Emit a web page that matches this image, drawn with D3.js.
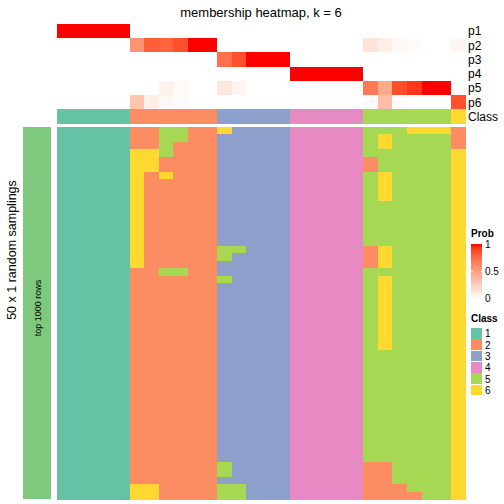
<!DOCTYPE html>
<html><head><meta charset="utf-8">
<script src="https://cdn.jsdelivr.net/npm/d3@7"></script>
<style>body{margin:0;background:#fff}text{font-family:"Liberation Sans",Arial,sans-serif}rect{shape-rendering:crispEdges}</style>
</head><body><svg id="c" width="504" height="504"></svg>
<script>
const title = "membership heatmap, k = 6";
const probRows = ["p1","p2","p3","p4","p5","p6"];
const classes = ["1","2","3","4","5","6"];
const classColors = ["#66C2A5","#FC8D62","#8DA0CB","#E78AC3","#A6D854","#FFD92F"];
// class of each column (28 columns)
const colClass = [1,1,1,1,1, 2,2,2,2,2,2, 3,3,3,3,3, 4,4,4,4,4, 5,5,5,5,5,5, 6];
const p1 = [1,1,1,1,1, 0,0,0,0,0,0, 0,0,0,0,0, 0,0,0,0,0, 0,0,0,0,0,0, 0];
const p2 = [0,0,0,0,0, 0.55,0.8,0.78,0.85,1,1, 0,0,0,0,0, 0,0,0,0,0, 0.15,0.09,0.04,0.02,0,0, 0.05];
const p3 = [0,0,0,0,0, 0,0,0,0,0,0, 0.72,0.85,1,1,1, 0,0,0,0,0, 0,0,0,0,0,0, 0];
const p4 = [0,0,0,0,0, 0,0,0,0,0,0, 0,0,0,0,0, 1,1,1,1,1, 0,0,0,0,0,0, 0];
const p5 = [0,0,0,0,0, 0,0,0.07,0.03,0,0, 0.13,0.05,0,0,0, 0,0,0,0,0, 0.68,0.45,0.85,0.92,1,1, 0];
const p6 = [0,0,0,0,0, 0.3,0.09,0.04,0.02,0,0, 0,0,0,0,0, 0,0,0,0,0, 0.02,0.35,0.02,0,0,0, 0.85];
// 50 random samplings x 28 columns (column groups separated by spaces)
const samplings = [
"11111 225522 63333 44444 555666 2",
"11111 225522 33333 44444 565555 2",
"11111 225222 33333 44444 565555 2",
"11111 665222 33333 44444 555555 6",
"11111 662222 33333 44444 255555 6",
"11111 662222 33333 44444 255555 6",
"11111 626222 33333 44444 565555 6",
"11111 622222 33333 44444 565555 6",
"11111 622222 33333 44444 565555 6",
"11111 622222 33333 44444 565555 6",
"11111 622222 33333 44444 555555 6",
"11111 622222 33333 44444 555555 6",
"11111 622222 33333 44444 555555 6",
"11111 622222 33333 44444 555555 6",
"11111 622222 33333 44444 555555 6",
"11111 622222 33333 44444 555555 6",
"11111 622222 55333 44444 265555 6",
"11111 622222 53333 44444 265555 6",
"11111 622222 33333 44444 265555 6",
"11111 225522 33333 44444 555555 6",
"11111 222222 53333 44444 565555 6",
"11111 222222 33333 44444 565555 6",
"11111 222222 33333 44444 565555 6",
"11111 222222 33333 44444 565555 6",
"11111 222222 33333 44444 565555 6",
"11111 222222 33333 44444 565555 6",
"11111 222222 33333 44444 565555 6",
"11111 222222 33333 44444 565555 6",
"11111 222222 33333 44444 565555 6",
"11111 222222 33333 44444 565555 6",
"11111 222222 33333 44444 555555 6",
"11111 222222 33333 44444 555555 6",
"11111 222222 33333 44444 555555 6",
"11111 222222 33333 44444 555555 6",
"11111 222222 33333 44444 555555 6",
"11111 222222 33333 44444 555555 6",
"11111 222222 33333 44444 555555 6",
"11111 222222 33333 44444 555555 6",
"11111 222222 33333 44444 555555 6",
"11111 222222 33333 44444 555555 6",
"11111 222222 33333 44444 555555 6",
"11111 222222 33333 44444 555555 6",
"11111 222222 33333 44444 555555 6",
"11111 222222 33333 44444 555555 6",
"11111 222222 33333 44444 555555 6",
"11111 222222 53333 44444 225555 6",
"11111 222222 53333 44444 225555 6",
"11111 222222 33333 44444 225555 6",
"11111 662222 55333 44444 222555 6",
"11111 662222 55333 44444 222255 6"
];
const probTicks = [0, 0.5, 1];

const svg = d3.select("#c");
const nCol = colClass.length;
const x = d3.scaleBand().domain(d3.range(nCol)).range([56.7, 465.3]).paddingInner(0);
const topRows = probRows.concat(["Class"]);
const yTop = d3.scaleBand().domain(topRows).range([24, 123.6]);
const yMain = d3.scaleBand().domain(d3.range(samplings.length)).range([127, 499]);
const probColor = d3.scaleLinear().domain([0,1]).range(["#FFFFFF","#FF0000"]).interpolate(d3.interpolateLab);
const classColor = d3.scaleOrdinal().domain(classes).range(classColors);
const probs = [p1,p2,p3,p4,p5,p6];

svg.append("text").attr("x", 261).attr("y", 16.5).attr("text-anchor","middle")
  .attr("font-size", 13).text(title);

// probability rows
probs.forEach((arr, r) => {
  svg.append("g").selectAll("rect").data(arr).join("rect")
    .attr("x", (d,i) => x(i)).attr("y", yTop(probRows[r]))
    .attr("width", x.bandwidth()+0.5).attr("height", yTop.bandwidth()+0.5)
    .attr("fill", d => probColor(d));
});
// class row
svg.append("g").selectAll("rect").data(colClass).join("rect")
  .attr("x", (d,i) => x(i)).attr("y", yTop("Class"))
  .attr("width", x.bandwidth()+0.5).attr("height", yTop.bandwidth())
  .attr("fill", d => classColor(String(d)));
// row labels
svg.append("g").selectAll("text").data(topRows).join("text")
  .attr("x", 468).attr("y", d => yTop(d) + yTop.bandwidth()/2 + 4.3)
  .attr("font-size", 12).text(d => d);

// main heatmap
samplings.forEach((row, r) => {
  const cells = row.replace(/ /g, "").split("");
  svg.append("g").selectAll("rect").data(cells).join("rect")
    .attr("x", (d,i) => x(i)).attr("y", yMain(r))
    .attr("width", x.bandwidth()+0.5).attr("height", yMain.bandwidth()+0.5)
    .attr("fill", d => classColor(d));
});

// left annotation bar
svg.append("rect").attr("x", 23).attr("y", 127).attr("width", 27.7).attr("height", 372)
  .attr("fill", "#7FC97F");
svg.append("text").attr("transform", "translate(40.5,308) rotate(-90)")
  .attr("text-anchor","middle").attr("font-size", 9).text("top 1000 rows");
svg.append("text").attr("transform", "translate(16,250) rotate(-90)")
  .attr("text-anchor","middle").attr("font-size", 12.5).text("50 x 1 random samplings");

// Prob legend
const lg = svg.append("g");
lg.append("text").attr("x", 471).attr("y", 236.5).attr("font-size", 10).attr("font-weight","bold").text("Prob");
const defs = svg.append("defs");
const grad = defs.append("linearGradient").attr("id","pg").attr("x1",0).attr("y1",1).attr("x2",0).attr("y2",0);
d3.range(0,1.001,0.1).forEach(t => grad.append("stop").attr("offset", t).attr("stop-color", probColor(t)));
const yLeg = d3.scaleLinear().domain([0,1]).range([299, 243.5]);
lg.append("rect").attr("x", 471).attr("y", yLeg(1)).attr("width", 11).attr("height", yLeg(0)-yLeg(1)).attr("fill","url(#pg)");
probTicks.forEach(t => {
  if (t > 0) {
    lg.append("line").attr("x1",471).attr("x2",473).attr("y1",yLeg(t)).attr("y2",yLeg(t)).attr("stroke","#fff").attr("stroke-width",0.8);
    lg.append("line").attr("x1",480).attr("x2",482).attr("y1",yLeg(t)).attr("y2",yLeg(t)).attr("stroke","#fff").attr("stroke-width",0.8);
  }
  lg.append("text").attr("x", 485).attr("y", (t===0 ? 298 : yLeg(t)) + (t===1 ? 4.5 : 3.8)).attr("font-size", 10)
    .text(String(t));
});
// Class legend
lg.append("text").attr("x", 471).attr("y", 322).attr("font-size", 10).attr("font-weight","bold").text("Class");
const yCl = d3.scaleBand().domain(classes).range([328, 396]);
lg.selectAll("rect.cl").data(classes).join("rect").attr("class","cl")
  .attr("x", 471).attr("y", d => yCl(d)).attr("width", 11).attr("height", yCl.bandwidth()-0.8)
  .attr("fill", d => classColor(d));
lg.selectAll("text.cl").data(classes).join("text").attr("class","cl")
  .attr("x", 485).attr("y", d => yCl(d) + yCl.bandwidth()/2 + 3.8).attr("font-size", 10).text(d => d);
</script></body></html>
